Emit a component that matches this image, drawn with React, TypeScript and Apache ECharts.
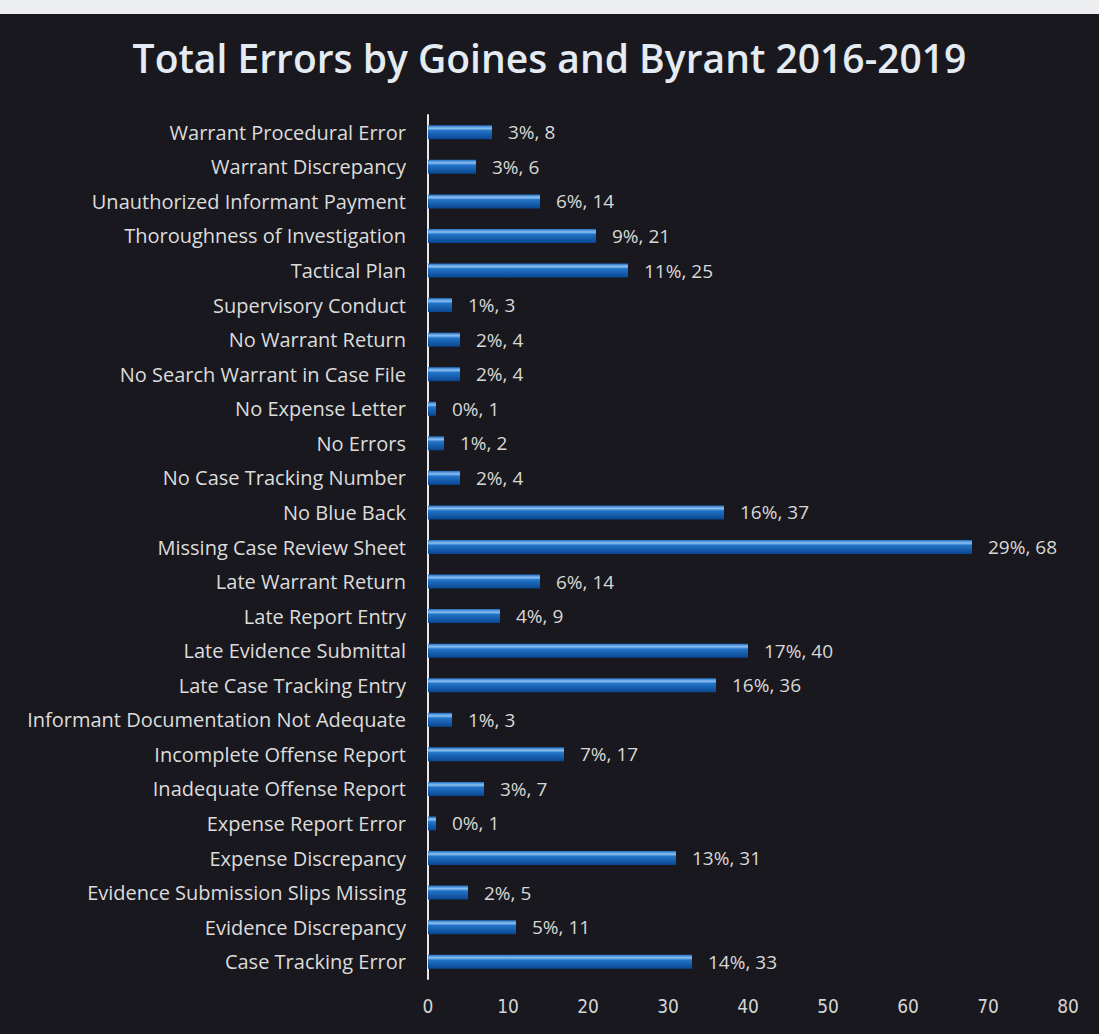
import React, { useEffect, useRef } from "react";
import * as echarts from "echarts";

const categories = [
  "Warrant Procedural Error",
  "Warrant Discrepancy",
  "Unauthorized Informant Payment",
  "Thoroughness of Investigation",
  "Tactical Plan",
  "Supervisory Conduct",
  "No Warrant Return",
  "No Search Warrant in Case File",
  "No Expense Letter",
  "No Errors",
  "No Case Tracking Number",
  "No Blue Back",
  "Missing Case Review Sheet",
  "Late Warrant Return",
  "Late Report Entry",
  "Late Evidence Submittal",
  "Late Case Tracking Entry",
  "Informant Documentation Not Adequate",
  "Incomplete Offense Report",
  "Inadequate Offense Report",
  "Expense Report Error",
  "Expense Discrepancy",
  "Evidence Submission Slips Missing",
  "Evidence Discrepancy",
  "Case Tracking Error",
];

const counts = [8, 6, 14, 21, 25, 3, 4, 4, 1, 2, 4, 37, 68, 14, 9, 40, 36, 3, 17, 7, 1, 31, 5, 11, 33];

const percents = ["3%", "3%", "6%", "9%", "11%", "1%", "2%", "2%", "0%", "1%", "2%", "16%", "29%", "6%", "4%", "17%", "16%", "1%", "7%", "3%", "0%", "13%", "2%", "5%", "14%"];

const xTicks = [0, 10, 20, 30, 40, 50, 60, 70, 80];

export default function App() {
  const ref = useRef<HTMLDivElement>(null);
  useEffect(() => {
    if (!ref.current) return;
    const chart = echarts.init(ref.current, undefined, { renderer: "svg" });
    chart.setOption({
      animation: false,
      backgroundColor: "#19181e",
      title: {
        text: "Total Errors by Goines and Byrant 2016-2019",
        left: "center",
        top: 33,
        textStyle: {
          color: "#e4ebf2",
          fontSize: 39,
          fontWeight: 600,
          fontFamily: "Open Sans",
        },
      },
      graphic: [
        {
          type: "rect",
          shape: { x: 0, y: 0, width: 1099, height: 14 },
          style: { fill: "#eceef0" },
          silent: true,
        },
      ],
      grid: { left: 428, right: 31, top: 115, bottom: 55 },
      xAxis: {
        type: "value",
        min: xTicks[0],
        max: xTicks[xTicks.length - 1],
        interval: 10,
        splitLine: { show: false },
        axisLine: { show: false },
        axisTick: { show: false },
        axisLabel: {
          color: "#d4d4d4",
          fontSize: 19,
          margin: 17,
          fontFamily: "Liberation Sans Narrow, DejaVu Sans Condensed, sans-serif",
        },
      },
      yAxis: {
        type: "category",
        data: categories,
        inverse: true,
        axisLine: { show: true, lineStyle: { color: "#e8e8e8", width: 2 } },
        axisTick: { show: false },
        axisLabel: {
          color: "#dcdcdc",
          fontSize: 20,
          margin: 22,
          fontFamily: "Open Sans",
        },
      },
      series: [
        {
          type: "bar",
          data: counts,
          barWidth: 14,
          itemStyle: {
            color: new echarts.graphic.LinearGradient(0, 0, 0, 1, [
              { offset: 0, color: "#1e6fc6" },
              { offset: 0.22, color: "#8cc0f0" },
              { offset: 0.38, color: "#2274c8" },
              { offset: 1, color: "#0a4690" },
            ]),
          },
          label: {
            show: true,
            position: "right",
            distance: 16,
            color: "#d8d8d8",
            fontSize: 19,
            fontFamily: "Open Sans",
            formatter: (p: any) => `${percents[p.dataIndex]}, ${p.value}`,
          },
        },
      ],
    });
    return () => chart.dispose();
  }, []);
  return <div ref={ref} style={{ width: 1099, height: 1034, position: "absolute", left: 0, top: 0 }} />;
}
